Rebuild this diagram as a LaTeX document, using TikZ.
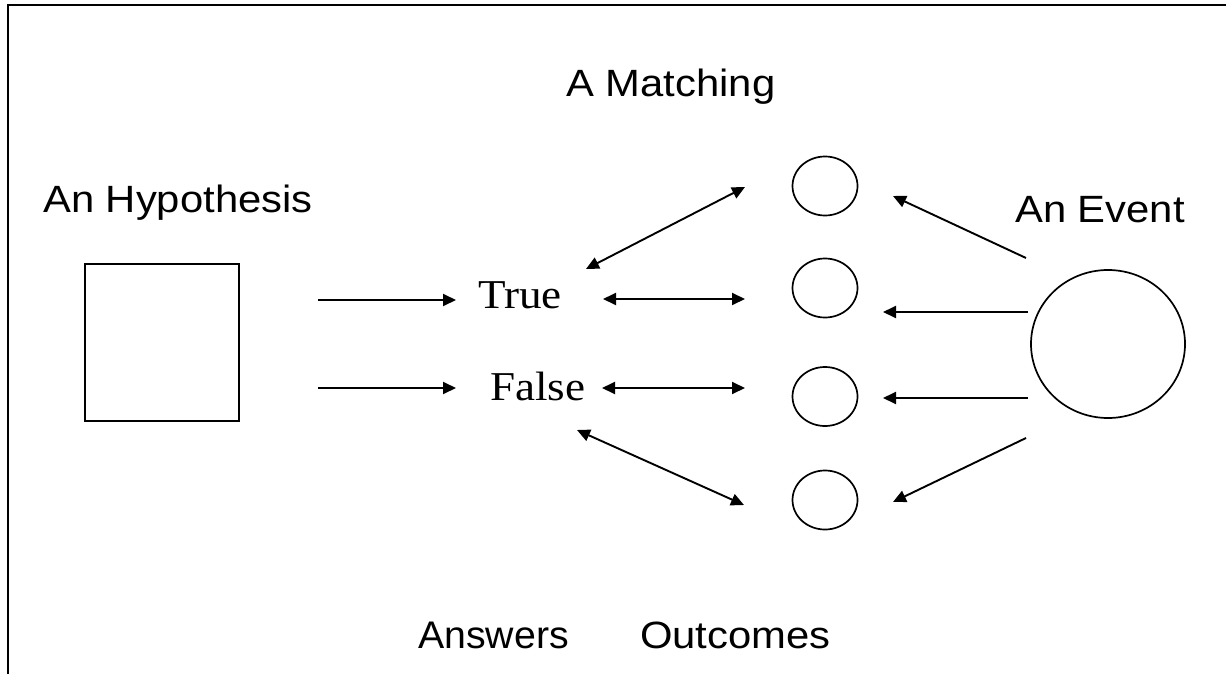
\documentclass[tikz,border=0pt]{standalone}
\usepackage{fontspec}
\usetikzlibrary{arrows.meta}
\newfontfamily\labelfont[FakeStretch=1.1]{Liberation Sans}
\newfontfamily\narrowlabelfont[FakeStretch=1.02]{Liberation Sans}
\newfontfamily\answerfont[FakeStretch=1.1]{Liberation Serif}
\begin{document}
\begin{tikzpicture}[x=1pt,y=-1pt,
  heading/.style={anchor=base west,inner sep=0pt,font=\labelfont\fontsize{38}{40}\selectfont},
  answer/.style={anchor=base west,inner sep=0pt,font=\answerfont\fontsize{41}{44}\selectfont},
  link/.style={line width=1.9pt,-{Triangle[length=13pt,width=12pt]}},
  biglink/.style={line width=1.9pt,{Triangle[length=13pt,width=12pt]}-{Triangle[length=13pt,width=12pt]}}]
  \useasboundingbox (0,0) rectangle (1226,674);
  % frame (open at right and bottom)
  \draw[line width=2.2pt] (8,674) -- (8,5) -- (1226,5);

  % headings
  \node[heading] (hyp) at (43,212) {An Hypothesis};
  \node[heading] (match) at (566,97) {A Matching};
  \node[heading] (ev) at (1015,222) {An Event};
  \node[heading,font=\narrowlabelfont\fontsize{38.5}{40}\selectfont] (ans) at (418,648) {Answers};
  \node[heading] (outc) at (640,648) {Outcomes};

  % the hypothesis box
  \node[draw,line width=1.7pt,inner sep=0pt,minimum width=154pt,minimum height=157pt] (box) at (162,342.5) {};

  % answers
  \node[answer] (true) at (478,308) {True};
  \node[answer] (false) at (490,400) {False};

  % outcomes and the event
  \foreach \n/\y in {c1/186,c2/288,c3/396.5,c4/500}
    \draw[line width=1.7pt] (825,\y) ellipse [x radius=32.5, y radius=29.5]
      node[inner sep=0pt] (\n) at (825,\y) {};
  \draw[line width=1.7pt] (1108,344) ellipse [x radius=77, y radius=74];
  \node[inner sep=0pt] (event) at (1108,344) {};

  % arrow end points
  \coordinate (hT) at (318,300);  \coordinate (tH) at (456,300);
  \coordinate (hF) at (318,388);  \coordinate (fH) at (456,388);
  \coordinate (tL) at (586,269);  \coordinate (o1) at (745,187);
  \coordinate (tR) at (603,299);  \coordinate (o2) at (745,299);
  \coordinate (fR) at (602,388);  \coordinate (o3) at (745,388);
  \coordinate (fL) at (577,430);  \coordinate (o4) at (744,505);
  \coordinate (e1) at (1026,258); \coordinate (i1) at (893,196);
  \coordinate (e2) at (1028,312); \coordinate (i2) at (883,312);
  \coordinate (e3) at (1028,398); \coordinate (i3) at (883,398);
  \coordinate (e4) at (1026,438); \coordinate (i4) at (893,502);

  % hypothesis to answers
  \draw[link] (hT) -- (tH);
  \draw[link] (hF) -- (fH);
  % answers to outcomes
  \draw[biglink] (tL) -- (o1);
  \draw[biglink] (tR) -- (o2);
  \draw[biglink] (fR) -- (o3);
  \draw[biglink] (fL) -- (o4);
  % event to outcomes
  \draw[link] (e1) -- (i1);
  \draw[link] (e2) -- (i2);
  \draw[link] (e3) -- (i3);
  \draw[link] (e4) -- (i4);
\end{tikzpicture}
\end{document}
